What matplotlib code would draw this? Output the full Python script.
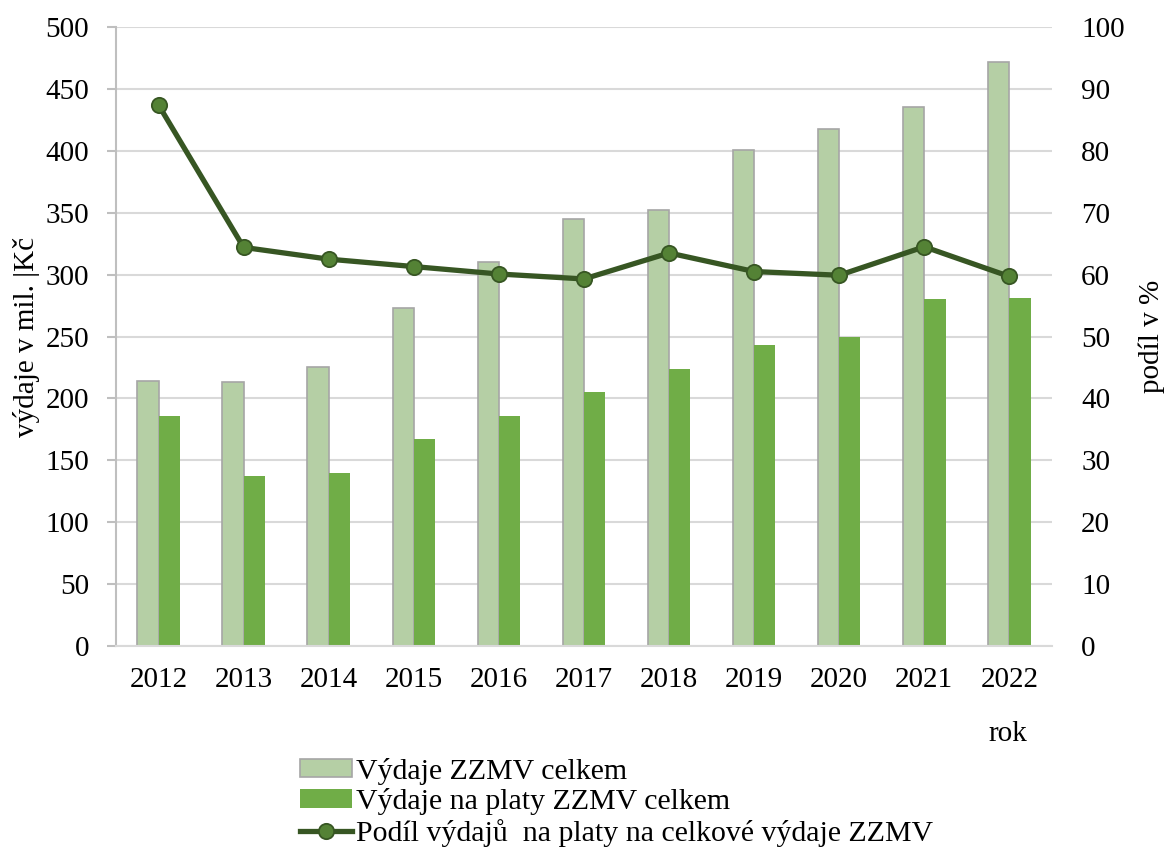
import matplotlib.pyplot as plt
import numpy as np
from matplotlib.patches import Patch
from matplotlib.lines import Line2D

plt.rcParams['font.family'] = ['Liberation Serif', 'DejaVu Serif']

roky = ['2012', '2013', '2014', '2015', '2016', '2017', '2018', '2019', '2020', '2021', '2022']
vydaje_celkem = [214, 213, 225, 273, 310, 345, 352, 401, 418, 435, 472]
vydaje_platy = [186, 137, 140, 167, 186, 205, 224, 243, 250, 280, 281]
podil = [87.4, 64.4, 62.5, 61.3, 60.1, 59.3, 63.5, 60.5, 59.9, 64.5, 59.7]

c_svetla = '#b5cfa5'
c_tmava = '#70ad47'
c_cara = '#375623'
c_bod = '#548235'
c_mrizka = '#d9d9d9'

fig = plt.figure(figsize=(11.67, 8.55), dpi=100)
ax = fig.add_axes([0.0994, 0.2444, 0.8020, 0.7240])
ax2 = ax.twinx()

x = np.arange(len(roky))
w = 0.25
ax.bar(x - w / 2, vydaje_celkem, w, color=c_svetla, edgecolor='#a6a6a6', linewidth=1.2, zorder=2)
ax.bar(x + w / 2, vydaje_platy, w, color=c_tmava, zorder=2)

ax.set_ylim(0, 500)
ax.set_yticks(range(0, 501, 50))
ax.set_xlim(-0.5, len(roky) - 0.5)
ax.set_xticks(x)
ax.set_xticklabels(roky)
ax.yaxis.grid(True, color=c_mrizka, linewidth=1.5, zorder=0)
ax.set_axisbelow(True)

ax2.plot(x, podil, color=c_cara, linewidth=3.8, marker='o', markersize=11,
         markerfacecolor=c_bod, markeredgecolor=c_cara, markeredgewidth=1.3, zorder=5)
ax2.set_ylim(0, 100)
ax2.set_yticks(range(0, 101, 10))

# jen levá a spodní osa
for a in (ax, ax2):
    for s in a.spines.values():
        s.set_visible(False)
ax.spines['left'].set_visible(True)
ax.spines['left'].set_color('#bfbfbf')
ax.spines['left'].set_linewidth(1.5)
ax.spines['bottom'].set_visible(True)
ax.spines['bottom'].set_color(c_mrizka)
ax.spines['bottom'].set_linewidth(1.5)

ax.tick_params(axis='y', labelsize=21, length=6.5, width=1.5, color='#bfbfbf', pad=13)
ax.tick_params(axis='x', labelsize=21, length=0, pad=15)
ax2.tick_params(axis='y', labelsize=21, length=0, pad=21)

ax.set_ylabel('výdaje v mil. |Kč', fontsize=21, labelpad=4)
ax2.set_ylabel('podíl v %', fontsize=21, labelpad=10)
fig.text(0.864, 0.142, 'rok', fontsize=21, ha='center', va='center')

handles = [
    Patch(facecolor=c_svetla, edgecolor='#a6a6a6', linewidth=1.2),
    Patch(facecolor=c_tmava),
    Line2D([0], [0], color=c_cara, linewidth=3.8, marker='o', markersize=11,
           markerfacecolor=c_bod, markeredgecolor=c_cara, markeredgewidth=1.3),
]
labels = ['Výdaje ZZMV celkem', 'Výdaje na platy ZZMV celkem',
          'Podíl výdajů  na platy na celkové výdaje ZZMV']
fig.legend(handles, labels, loc='upper left', bbox_to_anchor=(0.257, 0.114),
           frameon=False, fontsize=21.5, handlelength=1.74, handleheight=0.6,
           handletextpad=0.13, labelspacing=0.12, borderpad=0, borderaxespad=0)

fig.savefig('out.png', dpi=100)
